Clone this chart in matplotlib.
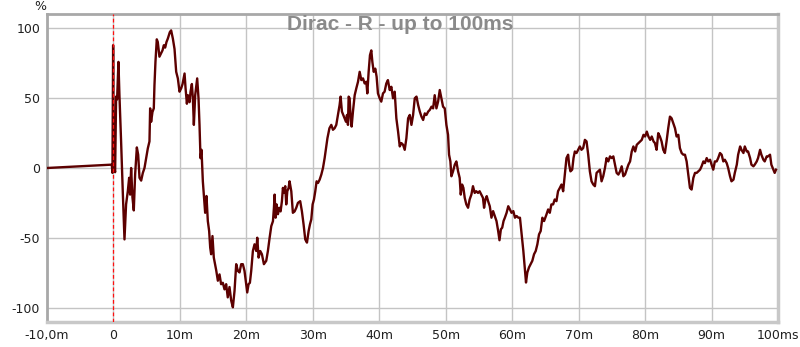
"""
Impulse response chart: Dirac - R, first 100 ms.
"""

import matplotlib
matplotlib.use("Agg")
import matplotlib.pyplot as plt

# time in ms, amplitude in %
time_ms = [
    -10.0, -0.25, -0.15, -0.05, 0.0, 0.05, 0.25, 0.4, 0.55, 0.75, 0.9, 1.15, 1.4, 1.66,
    1.9, 2.16, 2.36, 2.51, 2.66, 2.86, 3.06, 3.26, 3.52, 3.72, 3.92, 4.17, 4.42,
    4.67, 4.92, 5.17, 5.42, 5.52, 5.67, 5.87, 6.07, 6.17, 6.32, 6.52, 6.67, 6.92,
    7.17, 7.38, 7.58, 7.78, 7.98, 8.18, 8.48, 8.68, 8.94, 9.19, 9.44, 9.69, 9.94,
    10.2, 10.4, 10.7, 10.85, 11.05, 11.2, 11.45, 11.6, 11.8, 11.95, 12.1, 12.3,
    12.6, 12.8, 12.95, 13.1, 13.25, 13.45, 13.6, 13.8, 14.0, 14.2, 14.4, 14.56,
    14.7, 14.9, 15.1,
    15.46, 15.71, 15.96, 16.2, 16.46, 16.71, 16.96, 17.2, 17.46, 17.72, 17.97,
    18.22, 18.47, 18.72, 18.97, 19.22, 19.47, 19.72, 19.98, 20.13, 20.33, 20.53,
    20.73, 20.98, 21.23, 21.49, 21.64, 21.84, 22.09, 22.34, 22.64, 22.99, 23.24,
    23.5, 23.75, 24.0, 24.15, 24.25, 24.4, 24.55, 24.75, 24.95, 25.15, 25.35,
    25.5, 25.65, 25.85, 26.0, 26.16, 26.36, 26.5, 26.76, 27.0, 27.26, 27.51,
    27.76, 28.1, 28.36, 28.61, 28.86, 29.12, 29.37, 29.57, 29.77, 29.97, 30.17,
    30.37, 30.57, 30.78, 31.03, 31.28, 31.53, 31.78,
    32.2, 32.5, 32.78, 33.03, 33.28, 33.53, 33.78, 34.03, 34.18, 34.38, 34.58,
    34.78, 34.99, 35.14, 35.29, 35.39, 35.54, 35.69, 35.84, 36.04, 36.3, 36.55,
    36.8, 37.05, 37.3, 37.55, 37.8, 38.05, 38.2, 38.4, 38.6, 38.8, 38.96, 39.16,
    39.4, 39.6, 39.8, 40.06, 40.3, 40.56, 40.8, 41.06, 41.3, 41.57, 41.82, 42.07,
    42.32, 42.57, 42.83, 43.08, 43.33, 43.58, 43.83, 44.08, 44.34, 44.59, 44.84,
    45.09, 45.34, 45.6, 45.85, 46.1, 46.35, 46.6, 46.85, 47.1, 47.36, 47.6,
    47.86, 48.1,
    48.34, 48.6, 48.85, 49.1, 49.35, 49.6, 49.85, 50.1, 50.35, 50.5, 50.7, 50.85,
    51.1, 51.36, 51.6, 51.86, 52.1, 52.26, 52.46, 52.66, 52.86, 53.1, 53.36,
    53.6, 53.86, 54.1, 54.36, 54.6, 54.86, 55.1, 55.36, 55.6, 55.77, 55.97,
    56.17, 56.38, 56.63, 56.88, 57.13, 57.38, 57.64, 57.89, 58.09, 58.3, 58.5,
    58.7, 58.9, 59.16, 59.41, 59.66, 59.9, 60.17, 60.42, 60.67, 60.92, 61.17,
    61.42, 61.68, 61.93, 62.08, 62.28, 62.53, 62.78, 63.03, 63.29, 63.54, 63.79,
    64.04, 64.29, 64.54, 64.8,
    65.16, 65.41, 65.66, 65.9, 66.16, 66.4, 66.66, 66.9, 67.17, 67.42, 67.67,
    67.92, 68.17, 68.42, 68.57, 68.77, 69.03, 69.23, 69.43, 69.68, 69.93, 70.18,
    70.43, 70.68, 70.94, 71.19, 71.44, 71.69, 71.94, 72.2, 72.45, 72.7, 72.95,
    73.2, 73.45, 73.7, 73.96, 74.2, 74.46, 74.72, 74.97, 75.22, 75.47, 75.72,
    75.98, 76.23, 76.48, 76.73, 76.98, 77.24, 77.49, 77.74, 77.99, 78.24, 78.5,
    78.75, 79.0, 79.25, 79.5, 79.76, 80.0, 80.26, 80.5, 80.77, 81.0, 81.27,
    81.48, 81.73, 81.98, 82.23, 82.48, 82.73, 82.98, 83.23, 83.48, 83.74, 83.99,
    84.24, 84.5, 84.74, 85.0, 85.24, 85.5, 85.75, 86.0, 86.25, 86.5, 86.75, 87.0,
    87.26, 87.51, 87.76, 88.0, 88.27, 88.5, 88.77, 89.0, 89.27, 89.5, 89.78,
    90.0, 90.26, 90.5, 90.77, 91.0, 91.27, 91.52, 91.77, 92.0, 92.28, 92.5,
    92.78, 93.0, 93.3, 93.5, 93.8, 94.0, 94.3, 94.5, 94.8, 95.0, 95.3, 95.5,
    95.8, 96.0, 96.3, 96.5, 96.8, 97.0, 97.3, 97.5, 97.8, 98.0, 98.3, 98.5,
    98.8, 99.0, 99.3, 99.5, 99.7,
]

amplitude = [
    0.0, 2.4, -3.5, 87.7, 40.0, 2.4, -3.0, 51.0, 49.0, 75.8, 52.0, 19.0, -16.6, -51.0,
    -26.0, -16.6, -7.0, -19.0, 0.0, -21.0, -30.3, -4.7, 14.7, 9.5, -7.0, -9.0, -3.5,
    0.0, 7.0, 14.0, 19.0, 42.6, 33.0, 40.0, 42.6, 59.0, 75.8, 91.9, 90.0, 79.5,
    82.0, 84.0, 87.7, 86.0, 90.0, 92.4, 97.0, 98.3, 92.4, 85.0, 68.7, 64.0, 54.5,
    57.0, 60.0, 67.5, 57.0, 45.9, 52.0, 47.0, 54.5, 60.0, 49.8, 30.8, 52.0,
    64.0, 49.8, 30.8, 7.0, 13.0, -9.5, -19.0, -32.0, -20.0, -37.9, -45.0, -56.9,
    -61.6, -48.6, -64.0,
    -73.0, -80.5, -76.0, -83.0, -82.0, -86.7, -83.0, -92.4, -85.0, -94.8, -99.5,
    -87.7, -68.7, -73.5, -74.6, -68.7, -68.7, -73.5, -83.0, -88.9, -83.0, -82.0,
    -73.5, -59.3, -54.5, -59.3, -49.8, -64.0, -59.3, -61.6, -68.7, -66.3, -59.3,
    -49.8, -41.5, -38.0, -28.4, -19.0, -35.5, -26.0, -33.0, -28.4, -31.0, -23.7,
    -14.2, -17.8, -13.0, -26.0, -16.6, -14.2, -9.5, -16.6, -32.0, -31.0, -28.4,
    -24.9, -23.7, -31.0, -40.3, -51.0, -53.3, -45.0, -40.3, -36.7, -26.0, -22.5,
    -16.6, -9.5, -10.7, -8.3, -4.7, 0.0, 7.1,
    21.3, 28.4, 30.8, 27.3, 28.4, 30.8, 37.9, 45.0, 51.0, 40.3, 37.9,
    35.5, 33.0, 37.9, 30.8, 51.0, 49.8, 35.5, 29.6, 40.3, 52.0, 57.0,
    61.6, 68.7, 62.8, 64.0, 60.4, 61.6, 53.3, 68.7, 80.6, 84.0, 75.8, 68.7,
    71.0, 65.2, 53.3, 49.8, 47.4, 53.3, 54.5, 60.4, 62.8, 55.7, 58.0, 49.8,
    54.5, 35.5, 26.0, 15.4, 17.8, 16.6, 13.0, 21.3, 35.5, 37.9, 30.8,
    37.9, 49.8, 51.0, 45.0, 40.3, 36.7, 34.3, 39.0, 37.9, 40.3, 41.5,
    43.8, 42.6,
    52.0, 42.6, 47.4, 55.7, 49.8, 43.8, 42.6, 30.8, 23.7, 9.5, 4.7, -5.9,
    -2.4, 2.4, 4.7, -2.4, -7.1, -19.0, -11.8, -14.2, -21.3, -26.0, -28.4,
    -22.5, -19.0, -13.0, -17.8, -16.6, -17.8, -16.6, -19.0, -21.3, -28.4, -22.5,
    -20.1, -23.7, -27.3, -35.5, -30.8, -34.3, -37.9, -45.0, -51.6, -43.8, -42.6,
    -37.9, -35.5, -32.0, -27.3, -29.6, -32.0, -30.8, -35.5, -34.3, -35.5, -35.5,
    -47.4, -59.3, -73.5, -81.8, -74.6, -71.0, -68.7, -66.3, -61.6, -59.3, -54.5,
    -47.4, -45.0, -35.5, -37.9,
    -33.2, -29.6, -32.0, -26.0, -26.0, -22.5, -23.7, -16.6, -14.2, -11.8, -16.6,
    -4.7, 7.1, 9.5, 2.4, -2.4, -1.2, 7.1, 11.8, 10.7, 13.0, 15.4,
    13.0, 14.2, 20.1, 19.0, 9.5, -2.4, -9.5, -11.8, -13.0, -3.5, -2.4,
    -1.2, -9.5, -5.9, 0.0, 7.1, 4.7, 8.3, 7.1, 8.3, 2.4, -3.5,
    -4.7, -2.4, 1.2, -5.9, -4.7, -1.2, 2.4, 4.7, 11.8, 15.4, 11.8,
    16.6, 17.8, 19.0, 20.1, 23.7, 22.5, 26.0, 22.5, 20.1, 22.5, 19.0,
    17.8, 13.0, 24.9, 22.5, 19.0, 13.0, 10.7, 19.0, 28.4, 36.7, 35.5,
    32.0, 28.4, 22.5, 23.7, 14.2, 10.7, 9.5, 9.5, 4.7, -4.7, -14.2, -15.4,
    -7.1, -3.5, -3.5, -2.4, -1.2, 1.2, 4.7, 3.5, 7.1, 4.7, 5.9,
    2.4, -1.2, 4.7, 4.7, 7.1, 10.7, 9.5, 4.7, 5.9, 3.5, 0.0,
    -5.9, -9.5, -8.3, -3.5, 2.4, 9.5, 15.4, 13.0, 10.7, 15.4, 11.8, 11.8,
    7.1, 2.4, 1.2, 2.4, 4.7, 7.1, 13.0, 9.5, 5.9, 4.7, 8.3, 8.3,
    9.5, 2.4, -1.2, -3.5, -1.2,
]

x_ticks = [-10, 0, 10, 20, 30, 40, 50, 60, 70, 80, 90, 100]
x_tick_labels = ["-10,0m", "0", "10m", "20m", "30m", "40m", "50m", "60m",
                 "70m", "80m", "90m", "100ms"]
y_ticks = [-100, -50, 0, 50, 100]
y_tick_labels = ["-100", "-50", "0", "50", "100"]

plt.rcParams["font.family"] = ["DejaVu Sans"]

fig = plt.figure(figsize=(8.0, 3.47), dpi=100)
ax = fig.add_axes([47 / 800, 25 / 347, 731 / 800, 308 / 347])

ax.plot(time_ms, amplitude, color="#5c0000", linewidth=1.7, zorder=3)
ax.axvline(0, color="#ff1010", linestyle=(0, (3, 2)), linewidth=0.9, zorder=4)

ax.set_xlim(-10, 100)
ax.set_ylim(-110, 110)
ax.set_xticks(x_ticks)
ax.set_xticklabels(x_tick_labels)
ax.set_yticks(y_ticks)
ax.set_yticklabels(y_tick_labels)
ax.tick_params(length=0, labelsize=9, colors="#202020", pad=5)
ax.grid(True, color="#c4c4c4", linewidth=1.0, zorder=0)
ax.set_axisbelow(True)

for side in ["left", "top"]:
    ax.spines[side].set_color("#a8a8a8")
    ax.spines[side].set_linewidth(2.0)
for side in ["right", "bottom"]:
    ax.spines[side].set_color("#c8c8c8")
    ax.spines[side].set_linewidth(2.5)

fig.text(40 / 800, 1 - 6 / 347, "%", ha="center", va="center",
         fontsize=9, color="#202020")
fig.text(400 / 800, 1 - 25 / 347, "Dirac - R - up to 100ms", ha="center",
         va="center", fontsize=15, fontweight="bold", color="#8a8a8a",
         family="Liberation Sans")

fig.savefig("out.png", dpi=100)
